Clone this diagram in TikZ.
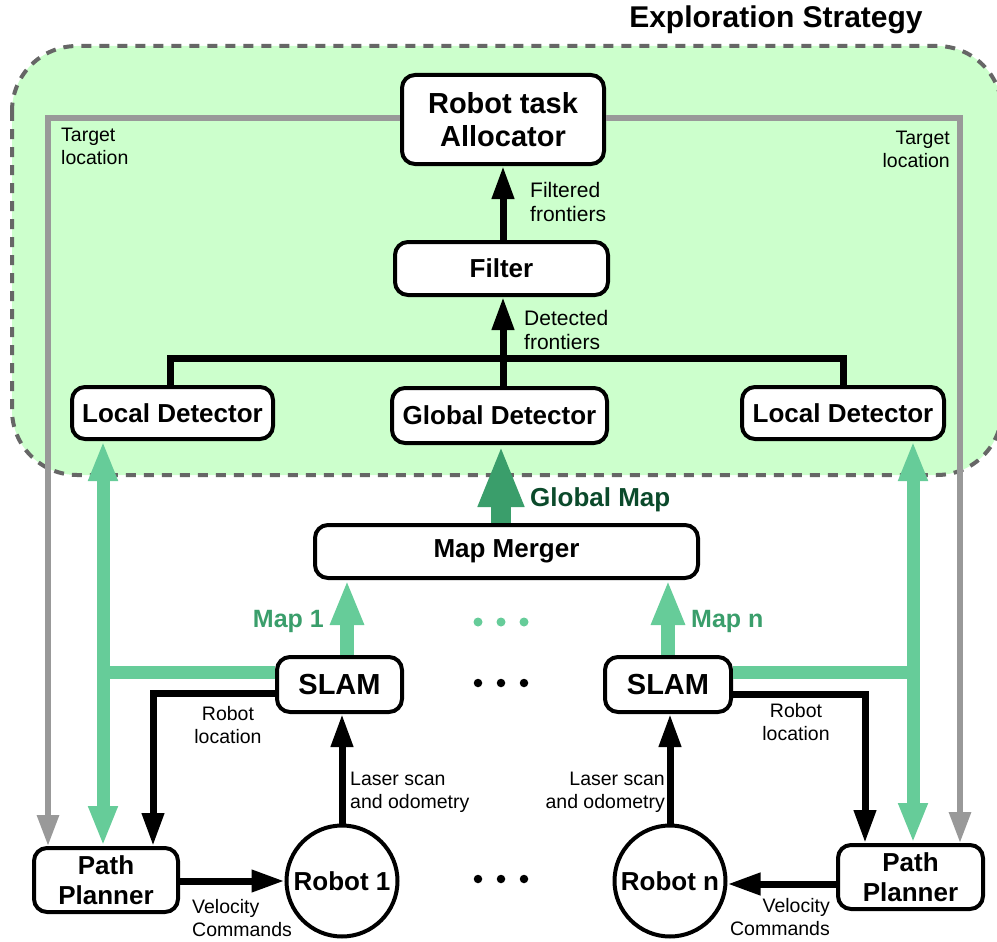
\documentclass[tikz,border=0pt]{standalone}
\usepackage{fontspec}
\setmainfont{Liberation Sans}
\usetikzlibrary{arrows.meta,calc}
\definecolor{zonefill}{HTML}{CCFFCC}
\definecolor{zoneline}{HTML}{666666}
\definecolor{mapgreen}{HTML}{66CC99}
\definecolor{mergegreen}{HTML}{3A9E6B}
\definecolor{darkgreen}{HTML}{0B4A2B}
\definecolor{routegray}{HTML}{999999}

\begin{document}
\begin{tikzpicture}[x=1pt,y=-1pt,
  box/.style={draw, line width=4pt, rounded corners=13pt, fill=white, align=center,
    inner sep=0pt, font=\bfseries\fontsize{26}{30}\selectfont},
  robotnode/.style={draw, circle, line width=4pt, fill=white, inner sep=0pt,
    minimum size=111pt, font=\bfseries\fontsize{26}{30}\selectfont},
  note/.style={inner sep=0pt, font=\fontsize{19.5}{23}\selectfont},
  frontnote/.style={inner sep=0pt, font=\fontsize{21}{24}\selectfont},
  maplabel/.style={inner sep=0pt, text=mergegreen, font=\bfseries\fontsize{25}{30}\selectfont},
  blk/.style={line width=7pt, -{Triangle[length=33pt,width=21pt]}},
  gry/.style={line width=6pt, routegray, -{Triangle[length=31pt,width=21pt]}},
  sidemap/.style={line width=13pt, mapgreen},
  slammap/.style={line width=14pt, mapgreen, -{Triangle[length=45pt,width=31pt]}},
  mergemap/.style={line width=20pt, mergegreen, -{Triangle[length=62pt,width=42pt]}},
  dot/.style={circle, inner sep=0pt, minimum size=9pt}
]
\useasboundingbox (0,0) rectangle (997,942);

% exploration strategy zone
\draw[fill=zonefill, draw=zoneline, line width=4pt, dash pattern=on 10pt off 8pt,
  rounded corners=65pt] (12,46) rectangle (1002,475);
\node[inner sep=0pt, font=\bfseries\fontsize{30}{34}\selectfont] (title) at (776,20) {Exploration Strategy};

% blocks
\node[box, minimum width=202pt, minimum height=89pt, font=\bfseries\fontsize{29}{33}\selectfont]
  (alloc) at (503,119.5) {Robot task\\Allocator};
\node[box, minimum width=213pt, minimum height=53pt] (filter) at (501.5,268.5) {Filter};
\node[box, minimum width=201pt, minimum height=52pt] (ldl) at (172.5,413) {Local Detector};
\node[box, minimum width=215pt, minimum height=55pt] (gd) at (499.5,415.5) {Global Detector};
\node[box, minimum width=202pt, minimum height=52pt] (ldr) at (843,413) {Local Detector};
\node[box, minimum width=383pt, minimum height=53pt] (merger) at (506.5,551.5) {Map Merger};
\node[box, minimum width=125pt, minimum height=55pt, font=\bfseries\fontsize{29}{33}\selectfont]
  (slam1) at (339.5,684.5) {SLAM};
\node[box, minimum width=126pt, minimum height=55pt, font=\bfseries\fontsize{29}{33}\selectfont]
  (slamn) at (668,684.5) {SLAM};
\node[box, minimum width=144pt, minimum height=64pt] (pp1) at (106,880) {Path\\Planner};
\node[box, minimum width=145pt, minimum height=64pt] (ppn) at (910.5,877) {Path\\Planner};
\node[robotnode] (r1) at (342,881) {Robot 1};
\node[robotnode] (rn) at (670,881) {Robot n};

% routing corners
\coordinate (gl) at (48,118);
\coordinate (gr) at (960,118);
\coordinate (ml) at (103,672);
\coordinate (mr) at (913,672);
\coordinate (bl) at (153,693);
\coordinate (br) at (865,694);
\coordinate (fan) at (503,358);

% target locations from the allocator
\draw[gry] (alloc.west |- gl) -| (pp1.north -| gl);
\draw[gry] (alloc.east |- gr) -| (ppn.north -| gr);
\node[note, anchor=west, align=left] (tl1) at (61,146) {Target\\location};
\node[note, anchor=east, align=right] (tl2) at (950,149) {Target\\location};

% frontier flow
\draw[blk] (filter.north -| alloc.south) -- (alloc.south);
\node[frontnote, anchor=west, align=left] (ff) at (530,202) {Filtered\\frontiers};
\draw[line width=7pt] (ldl.north -| 170,0) |- (fan) -| (ldr.north -| 843,0);
\draw[blk] (gd.north -| alloc.south) -- (filter.south -| alloc.south);
\node[frontnote, anchor=west, align=left] (df) at (524,330) {Detected\\frontiers};

% maps
\draw[mergemap] (merger.north -| 501,0) -- (gd.south -| 501,0);
\node[inner sep=0pt, anchor=west, text=darkgreen, font=\bfseries\fontsize{26}{30}\selectfont]
  (gm) at (530,500) {Global Map};
\draw[slammap] (slam1.north -| 347,0) -- (merger.south -| 347,0);
\draw[slammap] (slamn.north) -- (merger.south -| slamn.north);
\node[maplabel, anchor=east] (m1) at (324,621) {Map 1};
\node[maplabel, anchor=west] (mn) at (691,621) {Map n};

\draw[sidemap, {Triangle[length=40pt,width=27pt]}-{Triangle[length=40pt,width=27pt]}]
  (ldl.south -| ml) -- (pp1.north -| ml);
\draw[sidemap] (slam1.west |- ml) -- (ml);
\draw[sidemap, {Triangle[length=40pt,width=27pt]}-{Triangle[length=40pt,width=27pt]}]
  (ldr.south -| mr) -- (ppn.north -| mr);
\draw[sidemap] (slamn.east |- mr) -- (mr);

% robot loops
\draw[blk] (slam1.west |- bl) -| (pp1.north -| bl);
\node[note, align=center] (rl1) at (228,725) {Robot\\location};
\draw[blk] (r1.north) -- (slam1.south -| r1.north);
\node[note, anchor=west, align=left] (ls1) at (350,792) {Laser scan\\and odometry};
\draw[blk] (pp1.east |- r1) -- (r1.west);
\node[note, anchor=west, align=left] (vc1) at (192,918) {Velocity\\Commands};

\draw[blk] (slamn.east |- br) -| (ppn.north -| br);
\node[note, align=center] (rln) at (796,722) {Robot\\location};
\draw[blk] (rn.north) -- (slamn.south -| rn.north);
\node[note, anchor=east, align=right] (lsn) at (665,792) {Laser scan\\and odometry};
\draw[blk] (ppn.west |- 0,884) -- (rn.east |- 0,884);
\node[note, anchor=east, align=right] (vcn) at (830,917) {Velocity\\Commands};

% ellipses between robots
\foreach \i/\x in {1/478,2/501,3/524} {
  \node[dot, fill=mapgreen] (g\i) at (\x,622) {};
  \node[dot, fill=black, minimum size=8.5pt] (s\i) at (\x,683) {};
  \node[dot, fill=black, minimum size=8.5pt] (b\i) at (\x,879) {};
}
\end{tikzpicture}
\end{document}
